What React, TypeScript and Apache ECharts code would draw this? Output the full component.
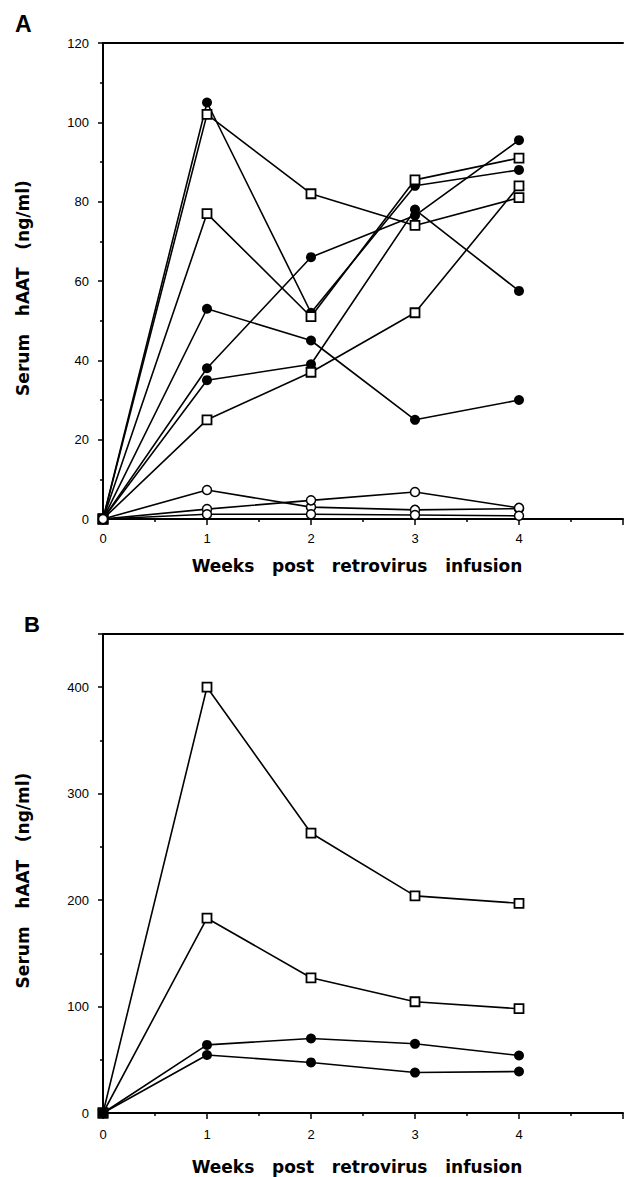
import React, { useEffect, useRef } from "react";
import * as echarts from "echarts";

// Weeks post infusion (x values)
const weeks = [0, 1, 2, 3, 4];

// Panel A series (ng/ml)
const aFilled1 = [0, 105, 52, 84, 88];
const aFilled2 = [0, 38, 66, 76.5, 95.5];
const aFilled3 = [0, 53, 45, 25, 30];
const aFilled4 = [0, 35, 39, 78, 57.5];
const aSquare1 = [0, 102, 82, 74, 81];
const aSquare2 = [0, 77, 51, 85.5, 91];
const aSquare3 = [0, 25, 37, 52, 84];
const aOpen1 = [0, 7.3, 3.0, 2.3, 2.6];
const aOpen2 = [0, 2.5, 4.7, 6.8, 2.8];
const aOpen3 = [0, 1.2, 1.2, 1.0, 0.8];

// Panel B series (ng/ml)
const bSquare1 = [0, 400, 263, 204, 197];
const bSquare2 = [0, 183, 127, 104.5, 98];
const bFilled1 = [0, 64, 70, 65, 54];
const bFilled2 = [0, 54.5, 47.5, 38, 39];

const xTitle = "Weeks   post   retrovirus   infusion";
const yTitle = "Serum   hAAT   (ng/ml)";

type Kind = "filled" | "square" | "open";

const pairs = (vals: number[]) => weeks.map((w, i) => [w, vals[i]]);

const makeSeries = (vals: number[], kind: Kind, idx: number) => {
  const base: any = {
    type: "line",
    xAxisIndex: idx,
    yAxisIndex: idx,
    data: pairs(vals),
    lineStyle: { color: "#000", width: 1.6 },
    showSymbol: true,
    symbolKeepAspect: true,
    z: 3,
  };
  if (kind === "filled") {
    base.symbol = "circle";
    base.symbolSize = 10;
    base.itemStyle = { color: "#000", borderColor: "#000", borderWidth: 0 };
  } else if (kind === "square") {
    base.symbol = "rect";
    base.symbolSize = 9;
    base.itemStyle = { color: "#fff", borderColor: "#000", borderWidth: 1.8 };
  } else {
    base.symbol = "circle";
    base.symbolSize = 9;
    base.itemStyle = { color: "#fff", borderColor: "#000", borderWidth: 1.5 };
  }
  return base;
};

const tickFont = {
  fontFamily: "Liberation Sans, Arial, sans-serif",
  fontSize: 13,
  color: "#000",
};

const titleFont = {
  fontFamily: "DejaVu Sans, sans-serif",
  fontWeight: "bold" as const,
  fontSize: 17,
  color: "#000",
};

const bottomX = (gridIndex: number, margin: number, nameGap: number) => ({
  type: "value",
  gridIndex,
  min: 0,
  max: 5,
  interval: 1,
  position: "bottom",
  name: xTitle,
  nameLocation: "middle",
  nameGap,
  nameTextStyle: { ...titleFont, padding: [0, 12, 0, 0] },
  axisLine: { show: true, onZero: false, lineStyle: { color: "#000", width: 2 } },
  axisTick: { show: true, inside: false, length: 6, lineStyle: { color: "#000", width: 1.5 } },
  minorTick: { show: true, splitNumber: 2, length: 3, lineStyle: { color: "#000", width: 1.5 } },
  splitLine: { show: false },
  minorSplitLine: { show: false },
  axisLabel: {
    ...tickFont,
    margin,
    formatter: (v: number) => (v === 5 ? "" : String(v)),
  },
});

const topX = (gridIndex: number) => ({
  type: "value",
  gridIndex,
  min: 0,
  max: 5,
  position: "top",
  axisLine: { show: true, onZero: false, lineStyle: { color: "#000", width: 2 } },
  axisTick: { show: false },
  axisLabel: { show: false },
  splitLine: { show: false },
});

const leftY = (gridIndex: number, max: number, interval: number, showMax: boolean) => ({
  type: "value",
  gridIndex,
  min: 0,
  max,
  interval,
  name: yTitle,
  nameLocation: "middle",
  nameGap: 72,
  nameTextStyle: { ...titleFont, padding: [0, 14, 0, 0] },
  axisLine: { show: true, onZero: false, lineStyle: { color: "#000", width: 2 } },
  axisTick: { show: true, inside: false, length: 5, lineStyle: { color: "#000", width: 1.5 } },
  minorTick: { show: true, splitNumber: 2, length: 3, lineStyle: { color: "#000", width: 1.5 } },
  splitLine: { show: false },
  minorSplitLine: { show: false },
  axisLabel: { ...tickFont, margin: 14, showMaxLabel: showMax },
});

export default function App() {
  const ref = useRef<HTMLDivElement>(null);

  useEffect(() => {
    document.body.style.margin = "0";
    if (!ref.current) return;
    const chart = echarts.init(ref.current, undefined, { renderer: "svg" });

    const series = [
      makeSeries(aFilled1, "filled", 0),
      makeSeries(aFilled2, "filled", 0),
      makeSeries(aFilled3, "filled", 0),
      makeSeries(aFilled4, "filled", 0),
      makeSeries(aSquare1, "square", 0),
      makeSeries(aSquare2, "square", 0),
      makeSeries(aSquare3, "square", 0),
      makeSeries(aOpen1, "open", 0),
      makeSeries(aOpen2, "open", 0),
      makeSeries(aOpen3, "open", 0),
      makeSeries(bSquare1, "square", 1),
      makeSeries(bSquare2, "square", 1),
      makeSeries(bFilled1, "filled", 1),
      makeSeries(bFilled2, "filled", 1),
    ];

    chart.setOption({
      animation: false,
      backgroundColor: "#fff",
      grid: [
        { left: 103, top: 43, width: 526, height: 476 },
        { left: 103, top: 634, width: 526, height: 479 },
      ],
      xAxis: [bottomX(0, 13, 38), bottomX(1, 15, 45), topX(0), topX(1)],
      yAxis: [leftY(0, 120, 20, true), leftY(1, 450, 100, false)],
      graphic: [
        {
          type: "text",
          left: 15,
          top: 12,
          style: {
            text: "A",
            font: "bold 23px Liberation Sans, Arial, sans-serif",
            fill: "#000",
          },
        },
        {
          type: "text",
          left: 24,
          top: 613,
          style: {
            text: "B",
            font: "bold 22px Liberation Sans, Arial, sans-serif",
            fill: "#000",
          },
        },
      ],
      series,
    });

    return () => chart.dispose();
  }, []);

  return <div ref={ref} style={{ width: 626, height: 1177 }} />;
}
